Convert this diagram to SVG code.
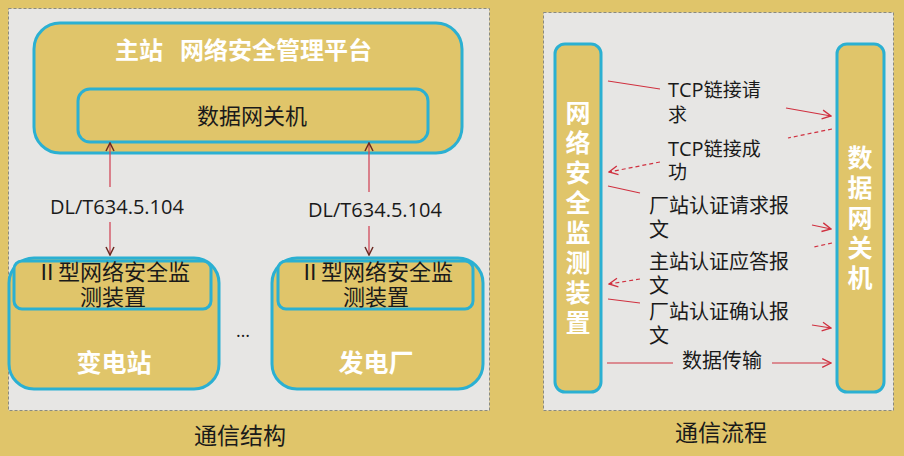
<svg xmlns="http://www.w3.org/2000/svg" width="904" height="456" viewBox="0 0 904 456">
<defs>
<style>
.panel{fill:#E7E6E4;stroke:#8a8a80;stroke-width:1;stroke-dasharray:3 2}
.box{fill:#E0C56A;stroke:#2BB0D2;stroke-width:3}
.cjk{font-family:"Noto Sans CJK SC","Noto Sans",sans-serif}
.wt{fill:#ffffff;font-weight:bold}
.dk{fill:#1a1a1a}
.lat{font-family:"Open Sans","Noto Sans","Noto Sans CJK SC",sans-serif;fill:#1a1a1a}
.arrL{stroke:#D24A5A;stroke-width:1.3;fill:none}
.arrR{stroke:#D0303F;stroke-width:1.2;fill:none}
.dash{stroke-dasharray:4 3}
</style>
<marker id="hL" viewBox="0 0 10 10" refX="9" refY="5" markerWidth="10" markerHeight="10" markerUnits="userSpaceOnUse" orient="auto-start-reverse">
<path d="M1,1 L9,5 L1,9" fill="none" stroke="#6B2A22" stroke-width="1.5"/>
</marker>
<marker id="hR" viewBox="0 0 10 10" refX="9" refY="5" markerWidth="11" markerHeight="11" markerUnits="userSpaceOnUse" orient="auto-start-reverse">
<path d="M1,1 L9,5 L1,9" fill="none" stroke="#D0303F" stroke-width="1.2"/>
</marker>
</defs>
<rect x="0" y="0" width="904" height="456" fill="#E0C56A"/>
<rect class="panel" x="8.5" y="8.5" width="481" height="402"/>
<rect class="panel" x="543.5" y="12.5" width="350" height="398"/>

<g id="master">
<rect class="box" x="34" y="23" width="428" height="130" rx="26"/>
<text class="cjk wt" y="59" font-size="24"><tspan x="115">主站</tspan><tspan x="180">网络安全管理平台</tspan></text>
</g>
<g id="gateway">
<rect class="box" x="78" y="89" width="350" height="53" rx="12"/>
<text class="cjk dk" x="252" y="124" font-size="22" text-anchor="middle">数据网关机</text>
</g>
<g id="substation">
<rect class="box" x="9" y="258" width="210" height="131" rx="25"/>
<rect class="box" x="14" y="261" width="197" height="48" rx="8"/>
<text class="cjk dk" font-size="22" text-anchor="middle"><tspan x="113" y="280">Ⅱ型网络安全监</tspan><tspan x="113" y="305">测装置</tspan></text>
<text class="cjk wt" x="114" y="372" font-size="25" text-anchor="middle">变电站</text>
</g>
<g id="plant">
<rect class="box" x="272" y="258" width="211" height="131" rx="25"/>
<rect class="box" x="278" y="261" width="195" height="48" rx="8"/>
<text class="cjk dk" font-size="22" text-anchor="middle"><tspan x="376" y="280">Ⅱ型网络安全监</tspan><tspan x="376" y="305">测装置</tspan></text>
<text class="cjk wt" x="376" y="372" font-size="25" text-anchor="middle">发电厂</text>
</g>
<text class="lat" x="243" y="337" font-size="18" text-anchor="middle">…</text>
<text class="cjk dk" x="240" y="444" font-size="23" text-anchor="middle">通信结构</text>

<g id="monitor">
<rect class="box" x="555" y="44" width="46" height="348" rx="10"/>
<text class="cjk wt" font-size="25" text-anchor="middle"><tspan x="578" y="122">网</tspan><tspan x="578" y="152">络</tspan><tspan x="578" y="182">安</tspan><tspan x="578" y="212">全</tspan><tspan x="578" y="242">监</tspan><tspan x="578" y="272">测</tspan><tspan x="578" y="302">装</tspan><tspan x="578" y="332">置</tspan></text>
</g>
<g id="gateway2">
<rect class="box" x="837" y="44" width="47" height="348" rx="10"/>
<text class="cjk wt" font-size="25" text-anchor="middle"><tspan x="860" y="167">数</tspan><tspan x="860" y="197">据</tspan><tspan x="860" y="227">网</tspan><tspan x="860" y="257">关</tspan><tspan x="860" y="287">机</tspan></text>
</g>

<g id="connectors">
<line class="arrL" x1="110" y1="143" x2="110" y2="187" marker-start="url(#hL)"/>
<line class="arrL" x1="110" y1="222" x2="110" y2="255" marker-end="url(#hL)"/>
<line class="arrL" x1="369" y1="143" x2="369" y2="192" marker-start="url(#hL)"/>
<line class="arrL" x1="369" y1="226" x2="369" y2="255" marker-end="url(#hL)"/>

<line class="arrR" x1="608" y1="81" x2="660" y2="89"/>
<line class="arrR" x1="786" y1="108" x2="831" y2="116" marker-end="url(#hR)"/>
<line class="arrR dash" x1="832" y1="129" x2="788" y2="138"/>
<line class="arrR dash" x1="660" y1="162" x2="609" y2="172" marker-end="url(#hR)"/>
<line class="arrR" x1="608" y1="186" x2="640" y2="193"/>
<line class="arrR" x1="812" y1="225" x2="831" y2="229" marker-end="url(#hR)"/>
<line class="arrR dash" x1="832" y1="243" x2="814" y2="247"/>
<line class="arrR dash" x1="640" y1="279" x2="609" y2="284" marker-end="url(#hR)"/>
<line class="arrR" x1="608" y1="299" x2="640" y2="303"/>
<line class="arrR" x1="812" y1="325" x2="831" y2="328" marker-end="url(#hR)"/>
<line class="arrR" x1="607" y1="363" x2="673" y2="363"/>
<line class="arrR" x1="772" y1="363" x2="831" y2="363" marker-end="url(#hR)"/>
</g>

<text class="lat" x="117" y="214" font-size="20" text-anchor="middle">DL/T634.5.104</text>
<text class="lat" x="375" y="217" font-size="20" text-anchor="middle">DL/T634.5.104</text>

<g class="cjk dk" font-size="19">
<text><tspan x="668" y="97"><tspan class="lat" font-size="20">TCP</tspan>链接请</tspan><tspan x="668" y="122">求</tspan></text>
<text><tspan x="668" y="156"><tspan class="lat" font-size="20">TCP</tspan>链接成</tspan><tspan x="668" y="179">功</tspan></text>
</g>
<g class="cjk dk" font-size="20">
<text><tspan x="649" y="213">厂站认证请求报</tspan><tspan x="649" y="237">文</tspan></text>
<text><tspan x="649" y="269">主站认证应答报</tspan><tspan x="649" y="293">文</tspan></text>
<text><tspan x="649" y="319">厂站认证确认报</tspan><tspan x="649" y="343">文</tspan></text>
<text x="722" y="368" text-anchor="middle">数据传输</text>
</g>
<text class="cjk dk" x="721" y="441" font-size="23" text-anchor="middle">通信流程</text>
</svg>
